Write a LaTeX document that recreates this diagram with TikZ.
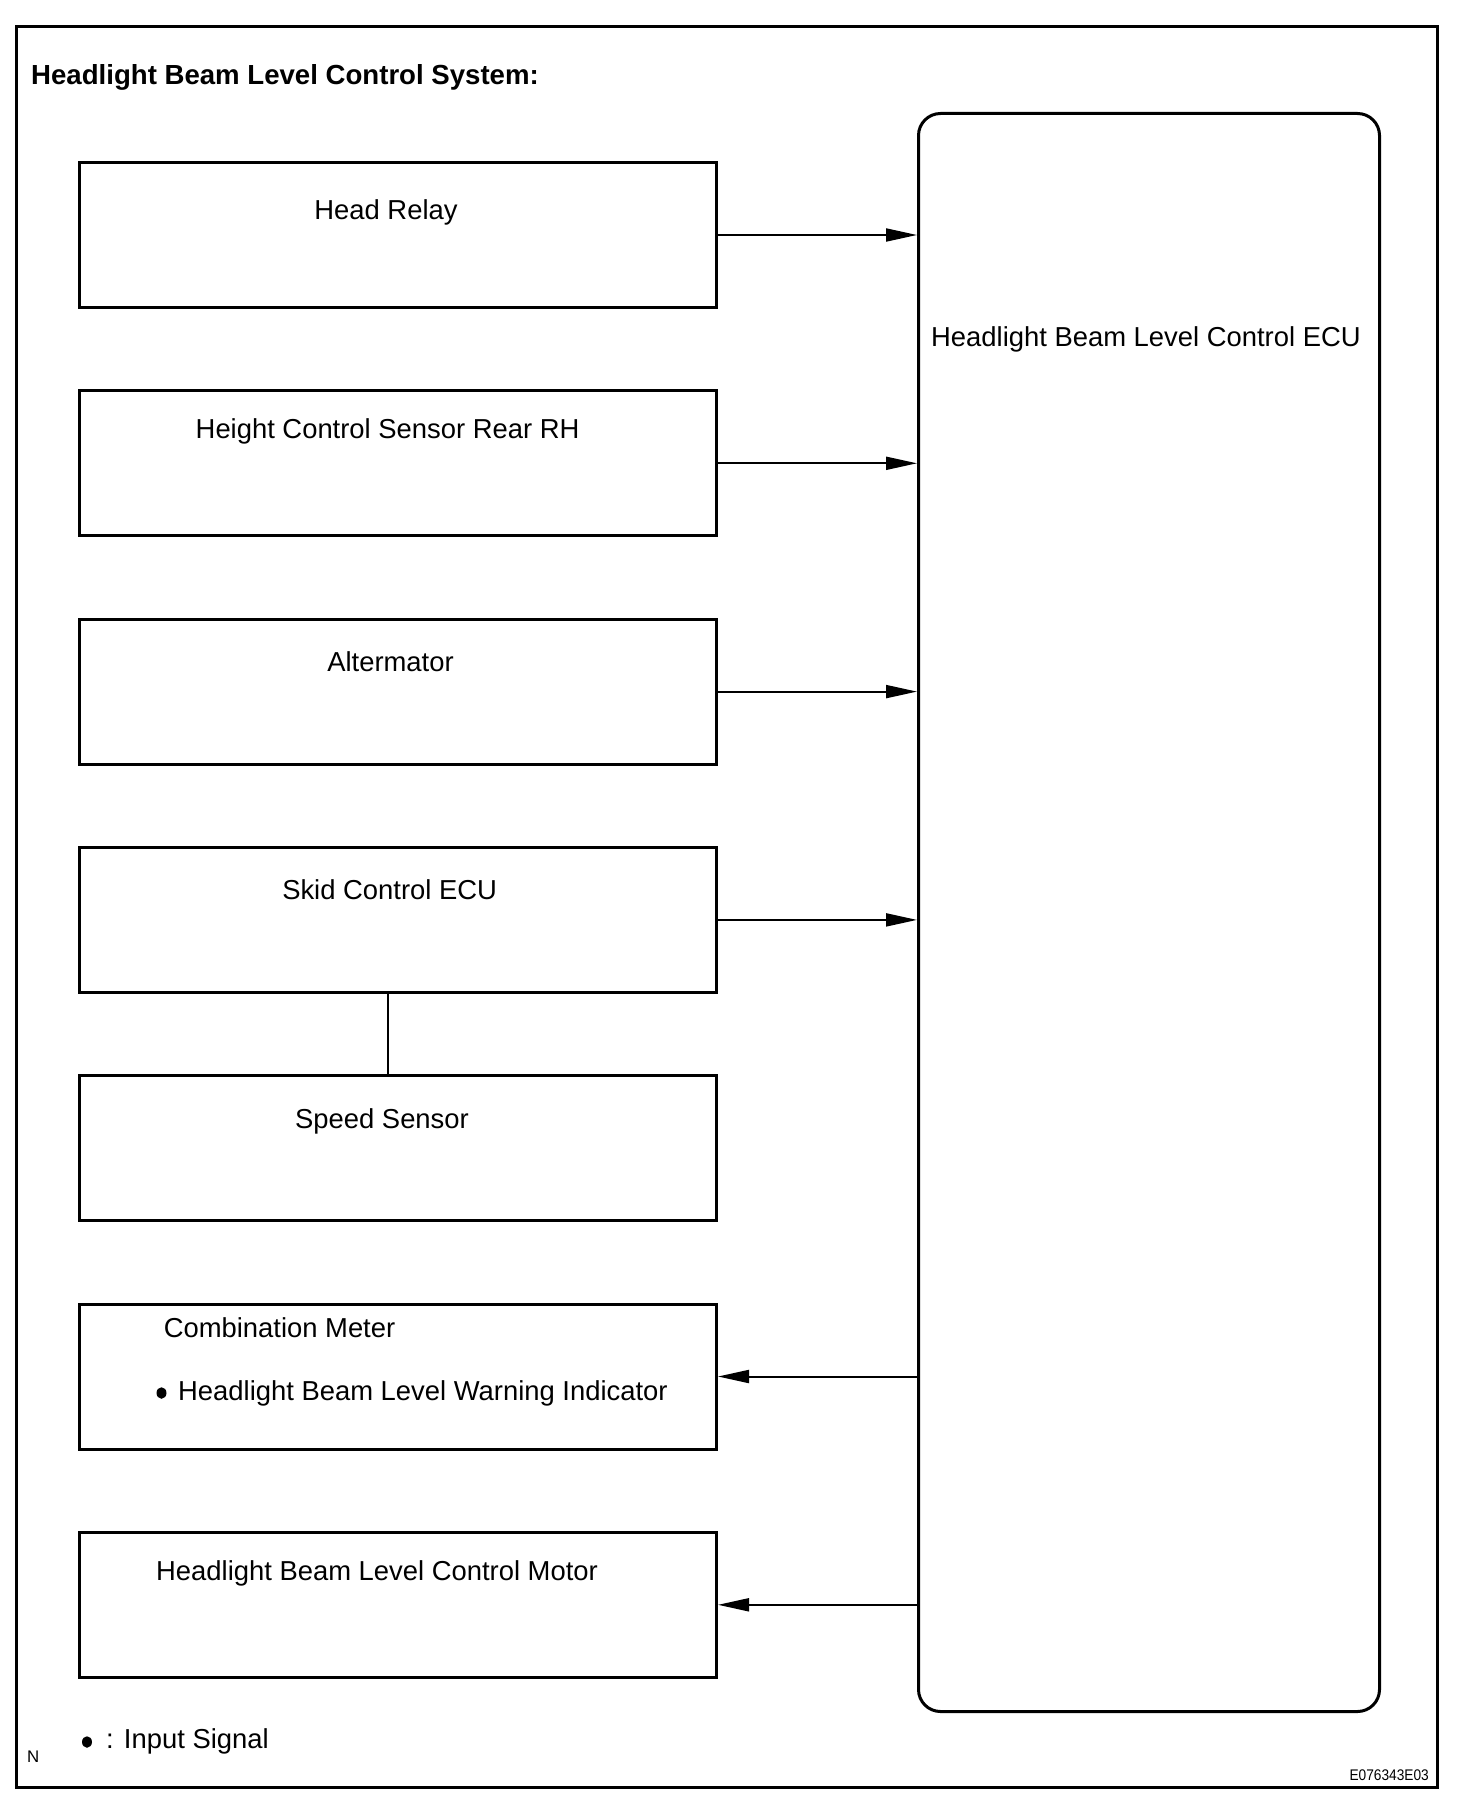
\documentclass[tikz,border=0pt]{standalone}
\usepackage{fontspec}
\setmainfont{Liberation Sans}
\usetikzlibrary{arrows.meta,shapes.geometric}
\begin{document}
\begin{tikzpicture}[x=1pt,y=-1pt,
  txt/.style={inner sep=0pt,font=\fontsize{27.4}{32}\selectfont},
  ttl/.style={inner sep=0pt,font=\fontsize{27.6}{32}\selectfont\bfseries},
  blk/.style={draw,line width=3pt,minimum width=637pt,minimum height=145pt,inner sep=0pt,anchor=north west},
  ecubox/.style={draw,line width=3pt,rounded corners=22pt,minimum width=461pt,minimum height=1598pt,inner sep=0pt,anchor=north west},
  arr/.style={line width=2pt,-{Triangle[length=31pt,width=13pt]}},
  thinln/.style={line width=1.2pt},
  dot/.style={fill,ellipse,inner sep=0pt,minimum width=10pt,minimum height=11.5pt}]
\useasboundingbox (0,0) rectangle (1456,1806);
\draw[line width=3pt] (16,27) rectangle (1437,1787);
\node[ttl,anchor=base west] (title) at (31,85) {Headlight Beam Level Control System:};
% left boxes
\node[blk] (hr) at (78,161) {};
\node[blk] (hc) at (78,389.3) {};
\node[blk] (alt) at (78,617.6) {};
\node[blk] (skid) at (78,845.9) {};
\node[blk] (spd) at (78,1074.2) {};
\node[blk] (cm) at (78,1302.5) {};
\node[blk] (mot) at (78,1530.8) {};
% ECU
\node[ecubox] (ecu) at (917,112) {};
% labels
\node[txt,anchor=base] (hrt) at (386,219) {Head Relay};
\node[txt,anchor=base] (hct) at (387.6,438.3) {Height Control Sensor Rear RH};
\node[txt,anchor=base] (altt) at (390.5,671) {Altermator};
\node[txt,anchor=base] (skidt) at (389.6,899) {Skid Control ECU};
\node[txt,anchor=base] (spdt) at (382,1128.5) {Speed Sensor};
\node[txt,anchor=base west] (cmt) at (163.6,1337) {Combination Meter};
\node[dot] (cmdot) at (161.5,1393) {};
\node[txt,anchor=base west] (cmt2) at (178,1400.5) {Headlight Beam Level Warning Indicator};
\node[txt,anchor=base west] (mott) at (156,1580) {Headlight Beam Level Control Motor};
\node[txt,anchor=base west] (ecut) at (931,346.7) {Headlight Beam Level Control ECU};
% legend
\node[dot] (legdot) at (87,1742) {};
\node[txt,anchor=base west] (legt) at (106,1748) {: Input Signal};
\node[inner sep=0pt,anchor=base west,font=\fontsize{16.8}{20}\selectfont] (nlbl) at (27,1762) {N};
\node[inner sep=0pt,anchor=base east,font=\fontsize{15.4}{18}\selectfont,xscale=0.89] (code) at (1429,1780) {E076343E03};
% connectors
\draw[arr] (hr.east) -- (ecu.west |- hr.east);
\draw[arr] (hc.east) -- (ecu.west |- hc.east);
\draw[arr] (alt.east) -- (ecu.west |- alt.east);
\draw[arr] (skid.east) -- (ecu.west |- skid.east);
\draw[arr] (ecu.west |- cm.east) -- (cm.east);
\draw[arr] (ecu.west |- mot.east) -- (mot.east);
\draw[thinln] ([xshift=-10pt]skid.south) -- ([xshift=-10pt]spd.north);
\end{tikzpicture}
\end{document}
